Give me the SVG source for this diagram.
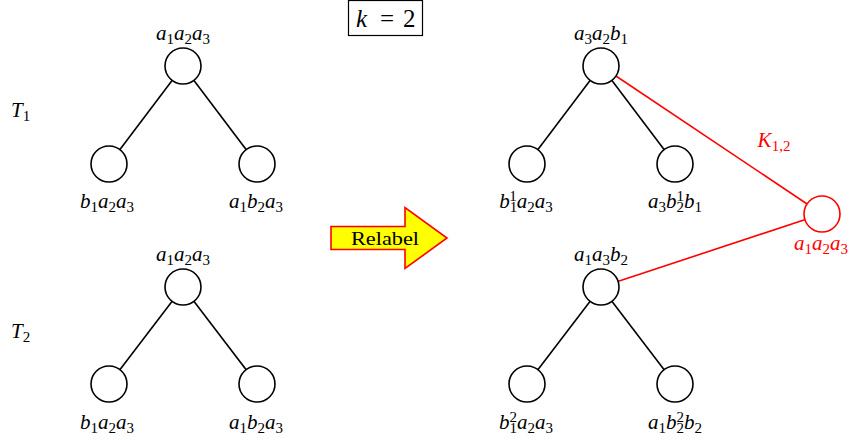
<svg xmlns="http://www.w3.org/2000/svg" width="850" height="441" viewBox="0 0 850 441">
<style>
.m{font-family:"Liberation Serif","DejaVu Serif",serif;font-style:italic;font-size:21px;fill:#000}
.s{font-style:normal;font-size:15px}
.r{fill:#ff0000}
.n{fill:#fff;stroke:#000;stroke-width:1.6}
.nr{fill:#fff;stroke:#ff0000;stroke-width:1.6}
.e{stroke:#000;stroke-width:1.6;fill:none}
.er{stroke:#ff0000;stroke-width:1.6;fill:none}
</style>
<rect width="850" height="441" fill="#fff"/>
<g id="connectors">
<line class="e" x1="183" y1="66" x2="109" y2="164"/>
<line class="e" x1="183" y1="66" x2="257" y2="164"/>
<line class="e" x1="183" y1="287" x2="109" y2="384"/>
<line class="e" x1="183" y1="287" x2="257" y2="384"/>
<line class="e" x1="601" y1="66" x2="527" y2="164"/>
<line class="e" x1="601" y1="66" x2="675" y2="164"/>
<line class="e" x1="601" y1="287" x2="527" y2="384"/>
<line class="e" x1="601" y1="287" x2="675" y2="384"/>
<line class="er" x1="601" y1="66" x2="822" y2="214"/>
<line class="er" x1="601" y1="287" x2="822" y2="214"/>
<text class="m r" x="774" y="147" text-anchor="middle">K<tspan class="s" dy="4">1,2</tspan></text>
</g>
<g id="title">
<rect x="348.5" y="0.5" width="74" height="35" fill="#fff" stroke="#000" stroke-width="1.2"/>
<text class="m" x="356" y="27" style="font-size:25px">k</text>
<text class="m" x="380" y="27" style="font-size:25px;font-style:normal">=</text>
<text class="m" x="403" y="27" style="font-size:25px;font-style:normal">2</text>
</g>
<g id="T1label"><text class="m" x="11" y="117">T<tspan class="s" dy="4">1</tspan></text></g>
<g id="T2label"><text class="m" x="11" y="338">T<tspan class="s" dy="4">2</tspan></text></g>
<g id="t1root"><circle class="n" cx="183" cy="66" r="18"/><text class="m" x="183" y="40" text-anchor="middle">a<tspan class="s" dy="4">1</tspan><tspan dy="-4">a</tspan><tspan class="s" dy="4">2</tspan><tspan dy="-4">a</tspan><tspan class="s" dy="4">3</tspan></text></g>
<g id="t1left"><circle class="n" cx="109" cy="164" r="18"/><text class="m" x="107" y="208" text-anchor="middle">b<tspan class="s" dy="4">1</tspan><tspan dy="-4">a</tspan><tspan class="s" dy="4">2</tspan><tspan dy="-4">a</tspan><tspan class="s" dy="4">3</tspan></text></g>
<g id="t1right"><circle class="n" cx="257" cy="164" r="18"/><text class="m" x="256" y="208" text-anchor="middle">a<tspan class="s" dy="4">1</tspan><tspan dy="-4">b</tspan><tspan class="s" dy="4">2</tspan><tspan dy="-4">a</tspan><tspan class="s" dy="4">3</tspan></text></g>
<g id="t2root"><circle class="n" cx="183" cy="287" r="18"/><text class="m" x="183" y="261" text-anchor="middle">a<tspan class="s" dy="4">1</tspan><tspan dy="-4">a</tspan><tspan class="s" dy="4">2</tspan><tspan dy="-4">a</tspan><tspan class="s" dy="4">3</tspan></text></g>
<g id="t2left"><circle class="n" cx="109" cy="384" r="18"/><text class="m" x="107" y="429" text-anchor="middle">b<tspan class="s" dy="4">1</tspan><tspan dy="-4">a</tspan><tspan class="s" dy="4">2</tspan><tspan dy="-4">a</tspan><tspan class="s" dy="4">3</tspan></text></g>
<g id="t2right"><circle class="n" cx="257" cy="384" r="18"/><text class="m" x="256" y="429" text-anchor="middle">a<tspan class="s" dy="4">1</tspan><tspan dy="-4">b</tspan><tspan class="s" dy="4">2</tspan><tspan dy="-4">a</tspan><tspan class="s" dy="4">3</tspan></text></g>
<g id="arrow">
<polygon points="331,226.5 405,226.5 405,207.5 447,238 405,268.5 405,249.5 331,249.5" fill="#ffff00" stroke="#ff0000" stroke-width="1.6" stroke-linejoin="miter"/>
<text x="385" y="245" text-anchor="middle" font-family="Liberation Serif, DejaVu Serif, serif" font-size="19" textLength="68" lengthAdjust="spacingAndGlyphs">Relabel</text>
</g>
<g id="r1root"><circle class="n" cx="601" cy="66" r="18"/><text class="m" x="601" y="40" text-anchor="middle">a<tspan class="s" dy="4">3</tspan><tspan dy="-4">a</tspan><tspan class="s" dy="4">2</tspan><tspan dy="-4">b</tspan><tspan class="s" dy="4">1</tspan></text></g>
<g id="r1left"><circle class="n" cx="527" cy="164" r="18"/><text class="m" x="526" y="208" text-anchor="middle">b<tspan class="s" dy="4">1</tspan><tspan class="s" dx="-7.5" dy="-11">1</tspan><tspan dy="7">a</tspan><tspan class="s" dy="4">2</tspan><tspan dy="-4">a</tspan><tspan class="s" dy="4">3</tspan></text></g>
<g id="r1right"><circle class="n" cx="675" cy="164" r="18"/><text class="m" x="675" y="208" text-anchor="middle">a<tspan class="s" dy="4">3</tspan><tspan dy="-4">b</tspan><tspan class="s" dy="4">2</tspan><tspan class="s" dx="-7.5" dy="-11">1</tspan><tspan dy="7">b</tspan><tspan class="s" dy="4">1</tspan></text></g>
<g id="r2root"><circle class="n" cx="601" cy="287" r="18"/><text class="m" x="601" y="261" text-anchor="middle">a<tspan class="s" dy="4">1</tspan><tspan dy="-4">a</tspan><tspan class="s" dy="4">3</tspan><tspan dy="-4">b</tspan><tspan class="s" dy="4">2</tspan></text></g>
<g id="r2left"><circle class="n" cx="527" cy="384" r="18"/><text class="m" x="526" y="429" text-anchor="middle">b<tspan class="s" dy="4">1</tspan><tspan class="s" dx="-7.5" dy="-11">2</tspan><tspan dy="7">a</tspan><tspan class="s" dy="4">2</tspan><tspan dy="-4">a</tspan><tspan class="s" dy="4">3</tspan></text></g>
<g id="r2right"><circle class="n" cx="675" cy="384" r="18"/><text class="m" x="675" y="429" text-anchor="middle">a<tspan class="s" dy="4">1</tspan><tspan dy="-4">b</tspan><tspan class="s" dy="4">2</tspan><tspan class="s" dx="-7.5" dy="-11">2</tspan><tspan dy="7">b</tspan><tspan class="s" dy="4">2</tspan></text></g>
<g id="redNode"><circle class="nr" cx="822" cy="214" r="18"/><text class="m r" x="821" y="250" text-anchor="middle">a<tspan class="s" dy="4">1</tspan><tspan dy="-4">a</tspan><tspan class="s" dy="4">2</tspan><tspan dy="-4">a</tspan><tspan class="s" dy="4">3</tspan></text></g>
</svg>
